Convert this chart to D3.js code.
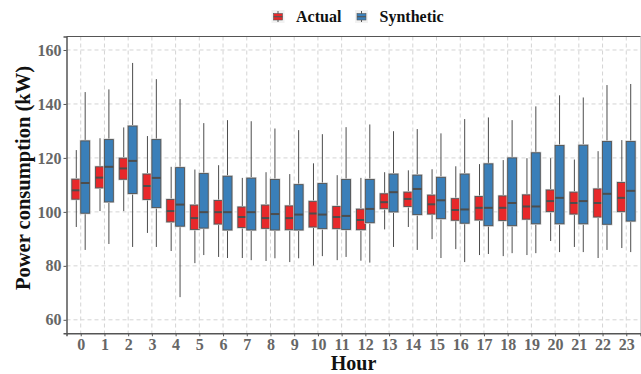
<!DOCTYPE html>
<html>
<head>
<meta charset="utf-8">
<script src="https://cdn.jsdelivr.net/npm/d3@7"></script>
<style>
  body { margin: 0; background: #fff; }
  svg text { font-family: "Liberation Serif", "Times New Roman", serif; font-weight: bold; }
</style>
</head>
<body>
<div id="chart"></div>
<script>
// hour categories
var hours = d3.range(0, 24).map(String);
var yTicks = [60, 80, 100, 120, 140, 160];

// Actual: whisker low, q1, median, q3, whisker high
var actualLo  = [94.4, 100.3, 100.3, 92.2, 85.5, 81.0, 83.3, 82.9, 81.8, 81.4, 80.1, 82.1, 81.9, 93.5, 94.4, 89.9, 86.2, 84.0, 83.6, 84.0, 89.2, 87.0, 82.9, 86.6];
var actualQ1  = [104.7, 108.9, 112.1, 104.6, 96.3, 93.5, 95.5, 94.2, 93.9, 93.4, 94.4, 93.8, 93.4, 101.2, 102.0, 99.2, 96.9, 97.0, 96.8, 97.3, 100.1, 99.2, 98.1, 100.1];
var actualMed = [108.0, 112.7, 116.1, 109.6, 100.3, 97.7, 99.9, 98.1, 97.7, 97.7, 99.4, 98.1, 97.0, 103.6, 104.8, 102.8, 100.7, 101.5, 101.5, 102.0, 104.0, 103.3, 103.3, 105.2];
var actualQ3  = [112.1, 116.7, 119.9, 114.0, 104.6, 102.5, 104.2, 101.8, 102.5, 102.2, 103.9, 102.0, 101.0, 106.7, 107.3, 106.2, 104.9, 105.7, 105.9, 106.3, 108.1, 107.3, 108.5, 110.9];
var actualHi  = [122.9, 127.3, 131.3, 128.1, 116.7, 115.7, 117.3, 112.6, 114.7, 114.0, 118.0, 113.6, 112.6, 114.7, 115.4, 115.8, 116.9, 117.7, 119.2, 119.9, 119.9, 119.4, 122.5, 126.6];

// Synthetic
var synthLo  = [85.9, 88.1, 87.0, 87.0, 68.4, 84.0, 82.9, 82.1, 82.8, 82.8, 83.6, 83.3, 81.2, 87.0, 85.9, 82.9, 81.4, 84.4, 84.7, 84.7, 85.1, 85.1, 85.9, 85.1];
var synthQ1  = [99.5, 103.7, 106.8, 101.6, 94.7, 94.0, 93.3, 93.3, 93.3, 93.3, 93.8, 93.5, 96.0, 100.0, 99.0, 97.5, 95.8, 94.9, 94.9, 95.6, 95.6, 95.6, 95.4, 96.6];
var synthMed = [110.7, 116.7, 118.9, 112.6, 102.7, 99.9, 99.9, 99.9, 99.2, 99.0, 99.0, 98.5, 101.1, 107.3, 108.5, 104.3, 100.9, 101.5, 103.3, 102.0, 105.2, 104.0, 106.7, 107.8];
var synthQ3  = [126.3, 126.8, 131.8, 126.8, 116.4, 114.2, 113.2, 112.5, 112.0, 110.1, 110.5, 112.0, 112.0, 114.0, 113.6, 112.8, 114.0, 117.8, 120.0, 121.9, 124.6, 124.7, 126.1, 126.1];
var synthHi  = [144.4, 145.4, 155.2, 149.2, 141.8, 132.9, 134.0, 133.6, 130.9, 130.3, 128.8, 131.4, 132.4, 129.9, 130.7, 129.1, 134.4, 135.0, 134.0, 139.1, 143.2, 142.4, 147.0, 147.4];

var seriesNames = ["Actual", "Synthetic"];
var seriesColors = ["#e8282a", "#3a7fb9"];

(function() {
var W = 641, H = 374;
var pLeft = 66.5, pRight = 640.5, pTop = 36.5, pBottom = 333.3;

var svg = d3.select("#chart").append("svg")
    .attr("width", W).attr("height", H)
    .style("background", "#fff");

var x = d3.scalePoint().domain(hours).range([pLeft, pRight]).padding(0.6);
var step = x.step();
var y = d3.scaleLinear().domain([55, 165]).range([pBottom, pTop]);

// grid
var grid = svg.append("g");
grid.selectAll(".hg").data(yTicks).enter().append("line")
    .attr("x1", pLeft).attr("x2", pRight)
    .attr("y1", function(d) { return y(d); }).attr("y2", function(d) { return y(d); })
    .attr("stroke", "#d4d4d4").attr("stroke-width", 1).attr("stroke-dasharray", "4,3");
grid.selectAll(".vg").data(hours).enter().append("line")
    .attr("x1", function(d) { return x(d); }).attr("x2", function(d) { return x(d); })
    .attr("y1", pTop).attr("y2", pBottom)
    .attr("stroke", "#d4d4d4").attr("stroke-width", 1).attr("stroke-dasharray", "4,3");

// right border, light
svg.append("line").attr("x1", pRight).attr("x2", pRight).attr("y1", pTop).attr("y2", pBottom)
    .attr("stroke", "#d9d9d9");
// top border
svg.append("line").attr("x1", pLeft).attr("x2", pRight).attr("y1", pTop).attr("y2", pTop)
    .attr("stroke", "#555").attr("stroke-width", 1.2);

// boxes
var series = [
    {lo: actualLo, q1: actualQ1, med: actualMed, q3: actualQ3, hi: actualHi, off: -1},
    {lo: synthLo, q1: synthQ1, med: synthMed, q3: synthQ3, hi: synthHi, off: 1}
];
var bw = step * 0.375;

series.forEach(function(s, si) {
    var g = svg.append("g");
    var rows = hours.map(function(h, i) {
        return {h: h, lo: s.lo[i], q1: s.q1[i], med: s.med[i], q3: s.q3[i], hi: s.hi[i]};
    });
    function cx(d) { return x(d.h) + s.off * bw / 2; }
    g.selectAll(".wu").data(rows).enter().append("line")
        .attr("x1", cx).attr("x2", cx)
        .attr("y1", function(d) { return y(d.hi); }).attr("y2", function(d) { return y(d.q3); })
        .attr("stroke", "#4d4d4d").attr("stroke-width", 1);
    g.selectAll(".wl").data(rows).enter().append("line")
        .attr("x1", cx).attr("x2", cx)
        .attr("y1", function(d) { return y(d.q1); }).attr("y2", function(d) { return y(d.lo); })
        .attr("stroke", "#4d4d4d").attr("stroke-width", 1);
    g.selectAll(".halo").data(rows).enter().append("rect")
        .attr("x", function(d) { return cx(d) - bw / 2; })
        .attr("y", function(d) { return y(d.q3); })
        .attr("width", bw)
        .attr("height", function(d) { return y(d.q1) - y(d.q3); })
        .attr("fill", "none").attr("stroke", "#cfcfcf").attr("stroke-width", 2.2);
    g.selectAll(".box").data(rows).enter().append("rect")
        .attr("x", function(d) { return cx(d) - bw / 2; })
        .attr("y", function(d) { return y(d.q3); })
        .attr("width", bw)
        .attr("height", function(d) { return y(d.q1) - y(d.q3); })
        .attr("fill", seriesColors[si]).attr("stroke", "#555").attr("stroke-width", 0.9);
    g.selectAll(".med").data(rows).enter().append("line")
        .attr("x1", function(d) { return cx(d) - bw / 2; })
        .attr("x2", function(d) { return cx(d) + bw / 2; })
        .attr("y1", function(d) { return y(d.med); }).attr("y2", function(d) { return y(d.med); })
        .attr("stroke", "#4d4d4d").attr("stroke-width", 2);
});

// axes
var yAxis = svg.append("g").attr("transform", "translate(" + pLeft + ",0)")
    .call(d3.axisLeft(y).tickValues(yTicks).tickSize(3).tickPadding(2));
var xAxis = svg.append("g").attr("transform", "translate(0," + pBottom + ")")
    .call(d3.axisBottom(x).tickSize(3).tickPadding(2));
[xAxis, yAxis].forEach(function(a) {
    a.select(".domain").attr("stroke", "#555").attr("stroke-width", 1.5);
    a.selectAll(".tick line").attr("stroke", "#555");
    a.selectAll(".tick text").attr("fill", "#666").style("font-size", "16px");
});

// titles
svg.append("text").attr("x", (pLeft + pRight) / 2).attr("y", 370)
    .attr("text-anchor", "middle").style("font-size", "20px").attr("fill", "#111").text("Hour");
svg.append("text").attr("transform", "translate(30,178) rotate(-90)")
    .attr("text-anchor", "middle").style("font-size", "20.5px").attr("fill", "#111")
    .text("Power consumption (kW)");

// legend
var legX = [271.5, 355];
seriesNames.forEach(function(n, i) {
    var g = svg.append("g").attr("transform", "translate(" + legX[i] + ",10)");
    g.append("rect").attr("width", 13).attr("height", 13).attr("fill", "#f2f2f2");
    g.append("line").attr("x1", 6.5).attr("x2", 6.5).attr("y1", 1).attr("y2", 12).attr("stroke", "#555");
    g.append("rect").attr("x", 2).attr("y", 3.5).attr("width", 9).attr("height", 6.5)
        .attr("fill", seriesColors[i]).attr("stroke", "#555").attr("stroke-width", 0.6);
    g.append("line").attr("x1", 2).attr("x2", 11).attr("y1", 6.7).attr("y2", 6.7)
        .attr("stroke", "#555").attr("stroke-width", 1.2);
    g.append("text").attr("x", 24.5).attr("y", 11.5).style("font-size", "16px").attr("fill", "#111").text(n);
});
})();
</script>
</body>
</html>
